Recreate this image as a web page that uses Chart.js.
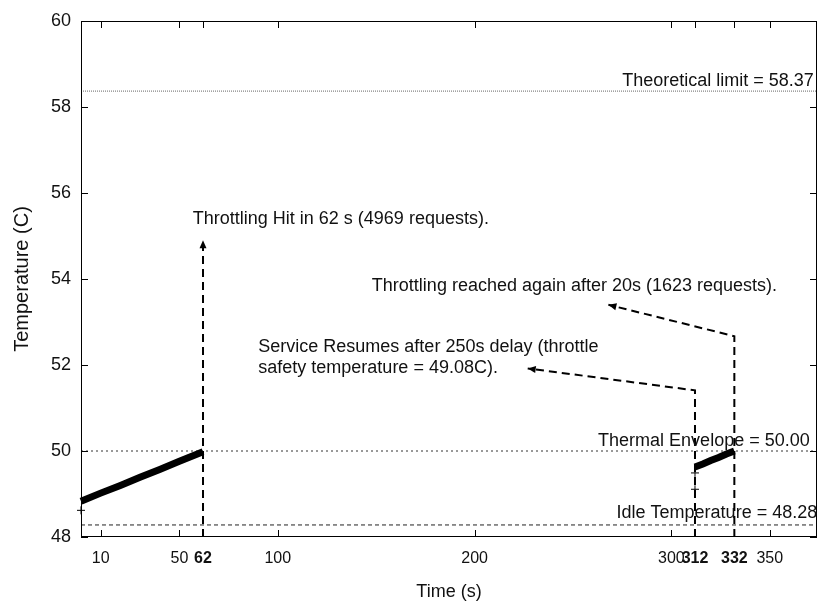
<!DOCTYPE html>
<html>
<head>
<meta charset="utf-8">
<script src="https://cdn.jsdelivr.net/npm/chart.js@4.4.0/dist/chart.umd.min.js"></script>
<style>
html, body { margin: 0; padding: 0; background: #fff; }
#wrap { width: 817px; height: 601px; }
</style>
</head>
<body>
<div id="wrap"><canvas id="myChart" width="817" height="601"></canvas></div>
<script>
// tick labels
const xTicks = [10, 50, 62, 100, 200, 300, 312, 332, 350];
const boldTicks = [62, 312, 332];
const yTicks = [48, 50, 52, 54, 56, 58, 60];

// first run, until throttling at 62 s
const run1Time = [0, 10, 20, 30, 40, 50, 62];
const run1Temp = [48.83, 49.02, 49.20, 49.39, 49.57, 49.76, 49.98];
// second run after the cool down
const run2Time = [312, 316, 320, 324, 328, 332];
const run2Temp = [49.63, 49.70, 49.78, 49.85, 49.93, 50.00];
// single samples that sit off the band
const strayTime = [0, 312, 312];
const strayTemp = [48.62, 49.49, 49.11];

const idleTemp = 48.28;
const envelopeTemp = 50.00;
const limitTemp = 58.37;

// arrows (time, temp)
const arrow62Time = [62, 62];
const arrow62Temp = [48, 54.9];
const arrow312Time = [312, 312, 227];
const arrow312Temp = [48, 51.41, 51.92];
const arrow332Time = [332, 332, 268];
const arrow332Temp = [48, 52.67, 53.40];

const X_MIN = 0, X_MAX = 374;
const FONT = '"Liberation Sans", Arial, sans-serif';

// notes, placed in data units
const notes = [
    {text: 'Theoretical limit = 58.37', x: 372.4, y: 58.60, align: 'right'},
    {text: 'Thermal Envelope = 50.00', x: 370.3, y: 50.23, align: 'right'},
    {text: 'Idle Temperature = 48.28', x: 374.1, y: 48.56, align: 'right'},
    {text: 'Throttling Hit in 62 s (4969 requests).', x: 56.8, y: 55.40, align: 'left'},
    {text: 'Throttling reached again after 20s (1623 requests).', x: 147.8, y: 53.83, align: 'left'},
    {text: 'Service Resumes after 250s delay (throttle', x: 90.1, y: 52.41, align: 'left'},
    {text: 'safety temperature = 49.08C).', x: 90.1, y: 51.93, align: 'left'},
];

function toPoints(xs, ys){
    return xs.map((x, i) => ({x: x, y: ys[i]}));
}
function hLine(v){
    return [{x: X_MIN, y: v}, {x: X_MAX, y: v}];
}

const arrowSets = [];

function makeDatasets(){
    const sets = [];
    sets.push({data: toPoints(run1Time, run1Temp), borderColor: '#000', borderWidth: 7, pointRadius: 0, clip: false});
    sets.push({data: toPoints(run2Time, run2Temp), borderColor: '#000', borderWidth: 7, pointRadius: 0, clip: false});
    sets.push({data: toPoints(strayTime, strayTemp), showLine: false, pointStyle: 'cross', pointRadius: 4,
        borderColor: '#000', borderWidth: 1, clip: false});
    sets.push({data: hLine(limitTemp), borderColor: '#666', borderWidth: 1, borderDash: [1, 1], pointRadius: 0});
    sets.push({data: hLine(envelopeTemp), borderColor: '#333', borderWidth: 1, borderDash: [2, 3], pointRadius: 0});
    sets.push({data: hLine(idleTemp), borderColor: '#222', borderWidth: 1, borderDash: [4, 3], pointRadius: 0});
    [[arrow62Time, arrow62Temp], [arrow312Time, arrow312Temp], [arrow332Time, arrow332Temp]].forEach(a => {
        arrowSets.push(sets.length);
        sets.push({data: toPoints(a[0], a[1]), borderColor: '#000', borderWidth: 2, borderDash: [8, 5],
            pointRadius: 0, borderJoinStyle: 'miter'});
    });
    return sets;
}

const framePlugin = {
    id: 'frame',
    afterDatasetsDraw(chart){
        const ctx = chart.ctx;
        const area = chart.chartArea;
        const xs = chart.scales.x, ys = chart.scales.y;
        ctx.save();
        // arrow heads
        ctx.fillStyle = '#000';
        arrowSets.forEach(i => {
            const pts = chart.getDatasetMeta(i).data;
            const a = pts[pts.length - 2], b = pts[pts.length - 1];
            const ang = Math.atan2(b.y - a.y, b.x - a.x);
            ctx.save();
            ctx.translate(b.x, b.y);
            ctx.rotate(ang);
            ctx.beginPath();
            ctx.moveTo(0, 0);
            ctx.lineTo(-8, -3.5);
            ctx.lineTo(-8, 3.5);
            ctx.closePath();
            ctx.fill();
            ctx.restore();
        });
        // box
        ctx.strokeStyle = '#000';
        ctx.lineWidth = 1;
        ctx.strokeRect(area.left + 0.5, area.top + 0.5, area.right - area.left - 1, area.bottom - area.top - 1);
        // ticks pointing in
        const len = 7;
        ctx.beginPath();
        xTicks.forEach(v => {
            const px = Math.round(xs.getPixelForValue(v)) + 0.5;
            ctx.moveTo(px, area.bottom); ctx.lineTo(px, area.bottom - len);
            ctx.moveTo(px, area.top); ctx.lineTo(px, area.top + len);
        });
        yTicks.forEach(v => {
            const py = Math.round(ys.getPixelForValue(v)) + 0.5;
            ctx.moveTo(area.left, py); ctx.lineTo(area.left + len, py);
            ctx.moveTo(area.right, py); ctx.lineTo(area.right - len, py);
        });
        ctx.stroke();
        // notes
        ctx.fillStyle = '#111';
        ctx.font = '18px ' + FONT;
        ctx.textBaseline = 'middle';
        notes.forEach(n => {
            ctx.textAlign = n.align;
            ctx.fillText(n.text, xs.getPixelForValue(n.x), ys.getPixelForValue(n.y));
        });
        ctx.restore();
    }
};

const ctx = document.getElementById('myChart').getContext('2d');
new Chart(ctx, {
    type: 'line',
    data: {datasets: makeDatasets()},
    options: {
        responsive: false,
        animation: false,
        layout: {autoPadding: false, padding: {top: 21, right: 0, left: 0, bottom: 0}},
        plugins: {legend: {display: false}, tooltip: {enabled: false}},
        elements: {line: {tension: 0}},
        scales: {
            x: {
                type: 'linear',
                min: X_MIN,
                max: X_MAX,
                grid: {display: false},
                border: {display: false},
                afterBuildTicks: s => { s.ticks = xTicks.map(v => ({value: v})); },
                afterFit: s => { s.height = 64; s.paddingLeft = 0; s.paddingRight = 0; },
                ticks: {
                    autoSkip: false,
                    maxRotation: 0,
                    padding: 4,
                    color: '#111',
                    font: c => ({family: FONT, size: 16,
                        weight: (c.tick && boldTicks.includes(c.tick.value)) ? 'bold' : 'normal'})
                },
                title: {display: true, text: 'Time (s)', color: '#111',
                    font: {family: FONT, size: 18, lineHeight: 1}, padding: {top: 0, bottom: 0}}
            },
            y: {
                min: 48,
                max: 60,
                grid: {display: false},
                border: {display: false},
                afterBuildTicks: s => { s.ticks = yTicks.map(v => ({value: v})); },
                afterFit: s => { s.width = 81; s.paddingTop = 0; s.paddingBottom = 0; },
                ticks: {padding: 2, color: '#111', font: {family: FONT, size: 18}},
                title: {display: true, text: 'Temperature (C)', color: '#111',
                    font: {family: FONT, size: 20, lineHeight: 1.2}, padding: {top: 10, bottom: 0}}
            }
        }
    },
    plugins: [framePlugin]
});
</script>
</body>
</html>
